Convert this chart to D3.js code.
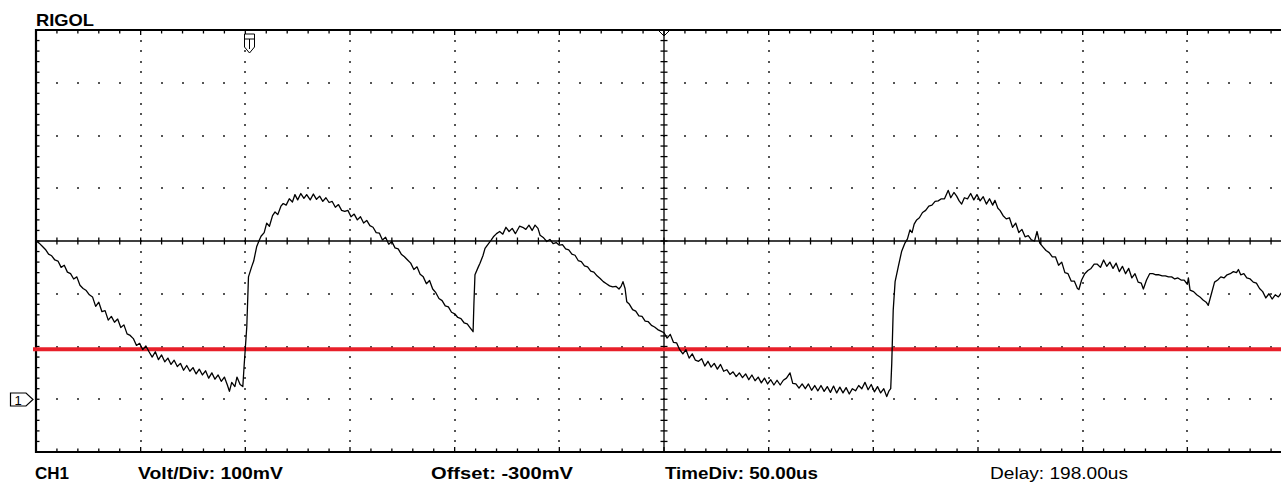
<!DOCTYPE html>
<html>
<head>
<meta charset="utf-8">
<script src="https://cdn.jsdelivr.net/npm/d3@7"></script>
<style>
  html, body { margin: 0; padding: 0; background: #fff; }
  svg { display: block; }
  .lbl { font-family: 'Liberation Sans', Arial, sans-serif; font-size: 16.5px; fill: #000; }
</style>
</head>
<body>
<div id="chart"></div>
<script>
// scope settings
const timeDomain = [-300, 300]   // us, 50us/div x 12 div
const voltDomain = [-100, 700]   // mV, 100mV/div x 8 div, offset -300mV
const triggerLevel = 95          // mV (red line)
const triggerTime = -200         // us (T marker)

const labels = [
  { text: 'CH1', x: 35, w: 34, bold: true },
  { text: 'Volt/Div: 100mV', x: 138, w: 145, bold: true },
  { text: 'Offset: -300mV', x: 431, w: 142, bold: true },
  { text: 'TimeDiv: 50.00us', x: 665, w: 153, bold: true },
  { text: 'Delay: 198.00us', x: 990, w: 138, bold: false },
]

// CH1 trace, [time us, mV]
const trace = [
  [-300,300],[-298.5,296],[-297,290],[-295.5,284],[-294,275],[-292.5,272],[-291,264],[-289.5,262],[-288,250],[-286.5,254],
  [-285,241],[-283.5,238],[-282,228],[-280.5,232],[-279,216],[-277.5,210],[-276,206],[-274.5,198],[-273,194],[-271.5,176],
  [-270,184],[-268.5,166],[-267,168],[-265.5,150],[-264,157],[-262.5,146],[-261,152],[-259.5,136],[-258,141],[-256.5,124],
  [-255,121],[-253.5,115],[-252,102],[-250.5,106],[-249,94],[-247.5,101],[-246,90],
  [-244.5,80],[-243,90],[-241.5,75],[-240,84],[-238.5,71],[-237,78],[-235.5,66],[-234,74],[-232.5,62],[-231,68],
  [-229.5,55],[-228,64],[-226.5,53],[-225,60],[-223.5,48],[-222,57],[-220.5,46],[-219,54],[-217.5,40],[-216,50],
  [-214.5,38],[-213,46],[-211.5,34],[-210,42],[-208.5,26],[-207.6,15],[-206.5,32],[-205,24],[-204,42],[-202.5,28],[-201.2,24],
  [-200.6,62],[-199.3,138],[-198.5,232],[-197,251],[-196,262],[-194.6,289],[-193.5,300],[-192.5,309],[-191,316],[-189.8,334],
  [-188.5,328],[-187,348],[-185.8,355],[-184.5,350],[-183,366],[-181.9,371],[-180.5,368],[-179,380],[-177.5,374],[-176.3,388],
  [-175,378],[-173.5,390],[-172,381],[-170.7,388],[-169,378],[-167.5,389],[-166,379],[-164.5,385],[-163,375],[-161.5,382],
  [-160,373],[-158.5,375],[-157,364],[-155.5,369],[-154,358],[-152.5,356],[-151,358],[-149.5,346],[-148,351],[-146.5,340],
  [-145,346],[-143.5,334],[-142,339],[-140.5,329],[-139,326],[-137.5,316],[-136,315],[-134.5,302],[-133,307],[-131.5,294],
  [-130,299],[-128.5,287],[-127,285],[-125.5,275],[-124,270],[-122.5,264],[-121,258],[-119.5,246],[-118,251],[-116.5,237],
  [-115,232],[-113.5,219],[-112,225],[-110.5,209],[-109,202],[-107.5,191],[-106,187],[-104.5,177],[-103,175],[-101.5,165],
  [-100,162],[-98.5,155],[-97,153],[-95.5,145],[-94,143],[-92.5,135],[-91.2,128],
  [-90.8,182],[-90.3,236],[-88.8,250],[-87.9,258],[-86.5,272],[-85.5,286],[-84,294],[-82.5,302],[-81.5,308],[-80,314],
  [-78.5,318],[-77,313],[-75.5,326],[-74,318],[-72.5,324],[-71,314],[-70.4,318],[-69,328],[-67.5,326],[-66,322],
  [-64.5,330],[-63,320],[-61.6,330],[-60.2,324],[-59.2,311],[-57.5,306],[-56,299],[-54.5,303],[-53,295],[-51.5,297],
  [-50,292],[-48.5,293],[-47,285],[-45.5,283],[-44,275],[-42.5,273],[-41,263],[-39.5,261],[-38,253],[-36.5,251],
  [-35,243],[-33.5,241],[-32,234],[-30.5,229],[-29,223],[-27.5,219],[-26,215],[-24.5,213],[-23,214],[-21.5,209],
  [-20.5,214],[-19.6,223],[-18.6,210],[-17.8,185],[-16.5,180],[-15,170],[-13.5,167],[-12,158],[-10.5,157],[-9,148],
  [-7.5,147],[-6,140],[-4.5,137],[-3,132],[-1.5,129],
  [0,126],[1.5,116],[3,123],[4.5,108],[6,107],[7.5,94],[9,86],[10.5,94],[12,78],[13.5,86],
  [15,74],[16.5,72],[18,77],[19.5,63],[21,72],[22.5,61],[24,68],[25.5,57],[27,66],[28.5,53],
  [30,56],[31.5,47],[33,52],[34.5,43],[36,50],[37.5,41],[39,48],[40.5,37],[42,46],[43.5,35],
  [45,42],[46.5,31],[48,40],[49.5,29],[51,37],[52.5,27],[54,36],[55.5,27],[57,36],[58.5,40],
  [60.2,50],[61.5,30],[63,29],[64.5,21],[66,29],[67.5,20],[69,29],[70.5,17],[72,26],[73.5,16],
  [75,26],[76.5,15],[78,24],[79.5,13],[81,25],[82.5,12],[84,23],[85.5,12],[87,22],[88.5,10],
  [90,20],[91.5,16],[93,26],[94.5,20],[96,32],[97.5,18],[99,28],[100.5,14],[102,24],[103.5,12],
  [105,20],[106.4,5],[107.5,16],[108.3,20],
  [108.8,68],[109.5,169],[110.4,223],[111.9,251],[113.5,280],[115.1,296],[116.3,304],[117.5,321],[118.5,316],[119.5,332],
  [120.7,340],[122,344],[123.5,354],[125,358],[126.5,366],[128,368],[129.5,375],[131,376],[132.5,380],[134,380],
  [135.8,396],[137,382],[138.5,392],[139.8,385],[141,376],[142.2,370],[143.5,382],[145,380],[146.5,390],[148,378],
  [149.5,388],[151,376],[152.5,384],[154,370],[155.5,380],[157,368],[158.1,377],[159.5,362],[160.5,358],[162,348],
  [163.5,342],[165,344],[166.5,326],[168,334],[169.5,316],[171,322],[172.5,308],[174,310],[175.5,302],[177,300],
  [178.2,318],[179.5,296],[181.2,288],[182.5,282],[184,278],[185.5,270],[187,270],[188.5,254],[190,260],[191.5,240],
  [193,238],[194.5,224],[196,224],[197.5,210],[198.2,208],[199.5,226],[201,238],[202.5,244],[204,248],[205.5,256],
  [207,256],[208.5,250],[210,264],[211.5,252],[213,260],[214.5,248],[216,258],[217.5,242],[219,252],[220.5,238],
  [222,248],[223.5,230],[225,238],[226.5,222],[228,220],[229,209],[230.5,226],[232,238],[233.5,238],[235,236],
  [236.5,236],[238,234],[239.5,234],[241,232],[242.5,232],[244,228],[245.5,230],[247,226],[248.5,226],[250,218],
  [250.5,230],[251.3,207],[253,204],[254.5,198],[256,194],[257.5,188],[259,184],[260,178],[261.5,200],[263,222],
  [264.5,226],[266,232],[267.5,230],[269,236],[270.5,238],[272,242],[273.5,240],[274.4,246],[275.5,236],[277,238],
  [278.4,230],[280,228],[281.5,222],[283,220],[284.5,210],[286,204],[287.5,192],[289,200],[290.5,190],[292,198],
  [293.5,194],[295,202]
]

const W = 1281, H = 482
const plot = { left: 36, top: 30, right: 1292, bottom: 452 }

const svg = d3.select('#chart').append('svg').attr('width', W).attr('height', H)

const x = d3.scaleLinear().domain(timeDomain).range([plot.left, plot.right])
const y = d3.scaleLinear().domain(voltDomain).range([plot.bottom, plot.top])

const majorT = d3.range(timeDomain[0], timeDomain[1] + 1, 50)
const minorT = d3.range(timeDomain[0], timeDomain[1] + 1, 10)
const majorV = d3.range(voltDomain[0], voltDomain[1] + 1, 100)
const minorV = d3.range(voltDomain[0], voltDomain[1] + 1, 20)
const tMid = 0, vMid = 300

const grid = svg.append('g')

// dotted division lines
const dots = []
majorT.filter((t) => t !== tMid && t !== timeDomain[0] && t !== timeDomain[1])
  .forEach((t) => minorV.forEach((v) => dots.push([t, v])))
majorV.filter((v) => v !== vMid && v !== voltDomain[0] && v !== voltDomain[1])
  .forEach((v) => minorT.forEach((t) => dots.push([t, v])))
grid.selectAll('rect.dot').data(dots).join('rect')
  .attr('class', 'dot')
  .attr('x', (d) => Math.round(x(d[0])) - 1)
  .attr('y', (d) => Math.round(y(d[1])) - 1)
  .attr('width', 2).attr('height', 2)
  .attr('fill', '#555')

// center cross
grid.append('line')
  .attr('x1', plot.left).attr('x2', plot.right)
  .attr('y1', y(vMid)).attr('y2', y(vMid))
  .attr('stroke', '#000').attr('stroke-width', 1.3)
grid.append('line')
  .attr('x1', x(tMid)).attr('x2', x(tMid))
  .attr('y1', plot.top).attr('y2', plot.bottom)
  .attr('stroke', '#000').attr('stroke-width', 1.3)

grid.selectAll('line.hx').data(minorT).join('line')
  .attr('class', 'hx')
  .attr('x1', (d) => x(d)).attr('x2', (d) => x(d))
  .attr('y1', y(vMid) - 3.5).attr('y2', y(vMid) + 3.5)
  .attr('stroke', '#000').attr('stroke-width', 1.3)
grid.selectAll('line.vx').data(minorV).join('line')
  .attr('class', 'vx')
  .attr('x1', x(tMid) - 3.5).attr('x2', x(tMid) + 3.5)
  .attr('y1', (d) => y(d)).attr('y2', (d) => y(d))
  .attr('stroke', '#000').attr('stroke-width', 1.3)

// border ticks
grid.selectAll('line.tt').data(minorT).join('line')
  .attr('class', 'tt')
  .attr('x1', (d) => x(d)).attr('x2', (d) => x(d))
  .attr('y1', plot.top).attr('y2', (d) => plot.top + (majorT.includes(d) ? 5 : 3.5))
  .attr('stroke', '#000').attr('stroke-width', 1.3)
grid.selectAll('line.bt').data(minorT).join('line')
  .attr('class', 'bt')
  .attr('x1', (d) => x(d)).attr('x2', (d) => x(d))
  .attr('y1', plot.bottom).attr('y2', (d) => plot.bottom - (majorT.includes(d) ? 5 : 3.5))
  .attr('stroke', '#000').attr('stroke-width', 1.3)
grid.selectAll('line.lt').data(minorV).join('line')
  .attr('class', 'lt')
  .attr('x1', plot.left).attr('x2', plot.left + 3.5)
  .attr('y1', (d) => y(d)).attr('y2', (d) => y(d))
  .attr('stroke', '#000').attr('stroke-width', 1.3)

// frame
svg.append('path')
  .attr('d', `M${plot.right},${plot.top}H${plot.left}V${plot.bottom}H${plot.right}`)
  .attr('fill', 'none').attr('stroke', '#000').attr('stroke-width', 2.2)

// trigger level line
svg.append('line')
  .attr('x1', plot.left - 3).attr('x2', W)
  .attr('y1', y(triggerLevel)).attr('y2', y(triggerLevel))
  .attr('stroke', '#e8202a').attr('stroke-width', 4)

// waveform
const line = d3.line().x((d) => x(d[0])).y((d) => y(d[1]))
svg.append('path')
  .datum(trace)
  .attr('d', line)
  .attr('fill', 'none')
  .attr('stroke', '#000')
  .attr('stroke-width', 1.3)
  .attr('stroke-linejoin', 'round')

// trigger position marker (T)
const tx = Math.round(x(triggerTime)) + 0.5
const mk = svg.append('g').attr('fill', '#fff').attr('stroke', '#000').attr('stroke-width', 1)
mk.append('path').attr('d', `M${tx - 1},${plot.top + 4}H${tx + 9}V${plot.top + 17}L${tx + 4},${plot.top + 23}L${tx - 1},${plot.top + 17}Z`)
mk.append('path').attr('fill', 'none').attr('d', `M${tx - 1},${plot.top + 9}H${tx + 9}M${tx + 4},${plot.top + 9}V${plot.top + 19}`)

// delay marker at center top
const cx = x(tMid)
svg.append('path')
  .attr('d', `M${cx - 5},${plot.top + 1}L${cx},${plot.top + 6}L${cx + 5},${plot.top + 1}`)
  .attr('fill', 'none').attr('stroke', '#000').attr('stroke-width', 1)

// CH1 ground marker
const gy = Math.round(y(0)) + 0.5
const gm = svg.append('g')
gm.append('path')
  .attr('d', `M10.5,${gy - 6.5}H26L33,${gy}L26,${gy + 6.5}H10.5Z`)
  .attr('fill', '#fff').attr('stroke', '#000').attr('stroke-width', 1.2)
gm.append('text')
  .attr('x', 18).attr('y', gy + 5)
  .attr('text-anchor', 'middle')
  .style('font-family', "'Liberation Sans', Arial, sans-serif")
  .style('font-size', '13px')
  .text('1')

// title
svg.append('text')
  .attr('class', 'lbl')
  .attr('x', 36).attr('y', 25.5)
  .attr('textLength', 58).attr('lengthAdjust', 'spacingAndGlyphs')
  .style('font-weight', 'bold')
  .text('RIGOL')

// status bar
svg.selectAll('text.status').data(labels).join('text')
  .attr('class', 'lbl status')
  .attr('x', (d) => d.x).attr('y', 478.5)
  .attr('textLength', (d) => d.w).attr('lengthAdjust', 'spacingAndGlyphs')
  .style('font-weight', (d) => (d.bold ? 'bold' : 'normal'))
  .text((d) => d.text)
</script>
</body>
</html>
